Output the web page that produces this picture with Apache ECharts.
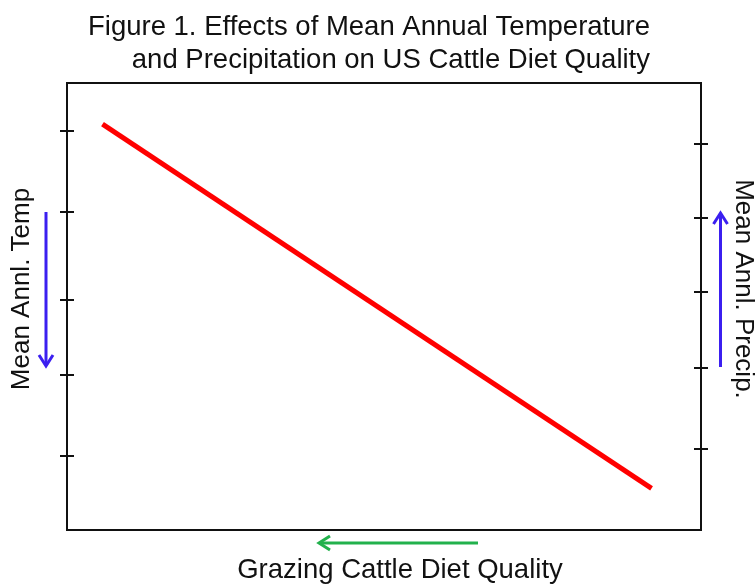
<!DOCTYPE html>
<html>
<head>
<meta charset="utf-8">
<script src="https://cdn.jsdelivr.net/npm/echarts@6/dist/echarts.min.js"></script>
<style>
html, body { margin: 0; padding: 0; background: #fff; }
#main { width: 756px; height: 587px; }
</style>
</head>
<body>
<div id="main"></div>
<script>
// 数据（坐标轴为无单位的 0-100 相对刻度）
var lineX = [5.6, 92.2];            // 横轴：放牧牛饮食质量
var lineY = [90.8, 9.3];            // 纵轴相对位置
var leftTicks = [16.6, 34.8, 51.5, 71.1, 89.3];   // 左轴刻度（气温）
var rightTicks = [18.1, 36.4, 53.2, 69.9, 86.3];  // 右轴刻度（降水）

var titleLines = ['Figure 1. Effects of Mean Annual Temperature', 'and Precipitation on US Cattle Diet Quality'];
var leftName = 'Mean Annl. Temp';
var rightName = 'Mean Annl. Precip.';
var bottomName = 'Grazing Cattle Diet Quality';

var FONT = 'Liberation Sans, Arial, sans-serif';
var BLUE = '#3b1ff0';
var GREEN = '#22b14c';

// 生成一个箭头（直线 + 箭头头部）
function arrow(x1, y1, x2, y2, color) {
    var dx = x2 - x1, dy = y2 - y1;
    var len = Math.sqrt(dx * dx + dy * dy);
    var ux = dx / len, uy = dy / len;
    var head = 11, wing = 7;
    var bx = x2 - ux * head, by = y2 - uy * head;
    return {
        type: 'group',
        children: [
            { type: 'line', shape: { x1: x1, y1: y1, x2: x2 - ux * 1.5, y2: y2 - uy * 1.5 },
              style: { stroke: color, lineWidth: 3 } },
            { type: 'polyline',
              shape: { points: [[bx - uy * wing, by + ux * wing], [x2, y2], [bx + uy * wing, by - ux * wing]] },
              style: { stroke: color, lineWidth: 3, fill: null, lineJoin: 'miter' } }
        ]
    };
}

function tickAxis(position, ticks, inside) {
    return {
        type: 'value',
        position: position,
        min: 0,
        max: 100,
        axisLine: { show: false },
        splitLine: { show: false },
        axisLabel: { show: false },
        axisTick: {
            show: true,
            inside: inside,
            length: 7,
            customValues: ticks,
            lineStyle: { color: '#111', width: 2 }
        }
    };
}

var chart = echarts.init(document.getElementById('main'));
chart.setOption({
    backgroundColor: '#fff',
    animation: false,
    title: {
        text: titleLines.join('\n'),
        left: 645,
        top: 6,
        textAlign: 'right',
        textStyle: {
            fontFamily: FONT,
            fontSize: 27.5,
            fontWeight: 'normal',
            color: '#111',
            lineHeight: 33
        }
    },
    grid: {
        left: 67,
        right: 55,
        top: 83,
        bottom: 57,
        show: true,
        borderColor: '#111',
        borderWidth: 2
    },
    xAxis: {
        type: 'value',
        min: 0,
        max: 100,
        axisLine: { show: false },
        axisTick: { show: false },
        axisLabel: { show: false },
        splitLine: { show: false }
    },
    yAxis: [
        tickAxis('left', leftTicks, false),
        tickAxis('left', leftTicks, true),
        tickAxis('right', rightTicks, false),
        tickAxis('right', rightTicks, true)
    ],
    series: [{
        type: 'line',
        data: lineX.map(function (x, i) { return [x, lineY[i]]; }),
        symbol: 'none',
        lineStyle: { color: '#ff0000', width: 5 }
    }],
    graphic: [
        {
            type: 'text', x: 22, y: 289, rotation: Math.PI / 2,
            style: { text: leftName, font: '26px ' + FONT, fill: '#111', align: 'center', verticalAlign: 'middle' }
        },
        {
            type: 'text', x: 743, y: 289, rotation: -Math.PI / 2,
            style: { text: rightName, font: '26px ' + FONT, fill: '#111', align: 'center', verticalAlign: 'middle' }
        },
        {
            type: 'text', x: 400, y: 570,
            style: { text: bottomName, font: '27.5px ' + FONT, fill: '#111', align: 'center', verticalAlign: 'middle' }
        },
        arrow(46, 212, 46, 366, BLUE),
        arrow(720.5, 367, 720.5, 213, BLUE),
        arrow(478, 543, 319, 543, GREEN)
    ]
});
</script>
</body>
</html>
